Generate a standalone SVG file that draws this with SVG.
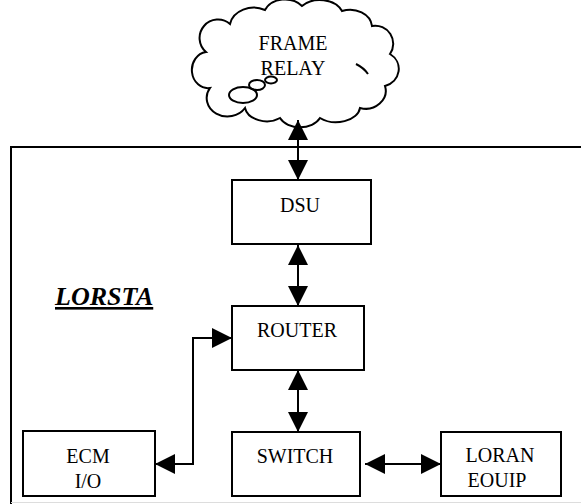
<svg xmlns="http://www.w3.org/2000/svg" width="581" height="504" viewBox="0 0 581 504">
<style>
.box{fill:#fff;stroke:#000;stroke-width:2}
.t{font-family:"Liberation Serif","Times New Roman",serif;font-size:20px;fill:#000;text-anchor:middle}
.c{fill:none;stroke:#000;stroke-width:2}
</style>
<defs>
<marker id="ah" markerUnits="userSpaceOnUse" markerWidth="20" markerHeight="20" viewBox="0 0 20 20" refX="20" refY="10" orient="auto-start-reverse">
<path d="M0,0 L20,10 L0,20 Z" fill="#000"/>
</marker>
</defs>
<rect width="581" height="504" fill="#fff"/>
<g id="lorsta">
<path d="M11,504 V147 H590" fill="none" stroke="#000" stroke-width="2"/>
<line x1="11" y1="502.5" x2="581" y2="502.5" stroke="#ddd" stroke-width="1"/>
<text x="55" y="305" font-family="Liberation Serif, Times New Roman, serif" font-size="26" font-weight="bold" font-style="italic" text-decoration="underline">LORSTA</text>
</g>
<g id="cloud">
<path class="c" fill="#fff" d="M210,88 A16,18 0 0 1 206,52 A18,18 0 0 1 230,24 A24,20 0 0 1 265,10 A22,18 0 0 1 302,6 A24,18 0 0 1 342,11 A22,18 0 0 1 372,26 A18,18 0 0 1 390,54 A20,18 0 0 1 385,86 A20,18 0 0 1 360,108 A24,16 0 0 1 320,118 A22,16 0 0 1 280,118 A22,16 0 0 1 245,108 A18,16 0 0 1 210,88 Z"/>
<path class="c" stroke-width="1.5" d="M356,64 Q364,68 368,74"/>
<ellipse class="c" cx="271" cy="80" rx="6" ry="3.5" stroke-width="1.5"/>
<ellipse class="c" cx="257" cy="85" rx="8" ry="5" stroke-width="1.5"/>
<ellipse class="c" cx="243" cy="95" rx="14" ry="8" stroke-width="1.5"/>
<text class="t" x="293" y="50">FRAME</text>
<text class="t" x="293" y="75">RELAY</text>
</g>
<g id="dsu">
<rect class="box" x="232" y="180" width="139" height="64"/>
<text class="t" x="300" y="212">DSU</text>
</g>
<g id="router">
<rect class="box" x="232" y="306" width="132" height="64"/>
<text class="t" x="297" y="337">ROUTER</text>
</g>
<g id="switch">
<rect class="box" x="232" y="432" width="128" height="64"/>
<text class="t" x="295" y="463">SWITCH</text>
</g>
<g id="ecm">
<rect class="box" x="23" y="431" width="132" height="65"/>
<text class="t" x="88" y="463">ECM</text>
<text class="t" x="88" y="488">I/O</text>
</g>
<g id="loran">
<rect class="box" x="441" y="432" width="120" height="64"/>
<text class="t" x="500" y="462">LORAN</text>
<text class="t" x="497" y="487">EOUIP</text>
</g>
<g id="connectors">
<line class="c" x1="298" y1="120" x2="298" y2="180" marker-start="url(#ah)" marker-end="url(#ah)"/>
<line class="c" x1="298" y1="245" x2="298" y2="306" marker-start="url(#ah)" marker-end="url(#ah)"/>
<line class="c" x1="298" y1="370" x2="298" y2="432" marker-start="url(#ah)" marker-end="url(#ah)"/>
<line class="c" x1="365" y1="464" x2="441" y2="464" marker-start="url(#ah)" marker-end="url(#ah)"/>
<path class="c" d="M232,338 H193 V464 H155" marker-start="url(#ah)" marker-end="url(#ah)"/>
</g>
</svg>
